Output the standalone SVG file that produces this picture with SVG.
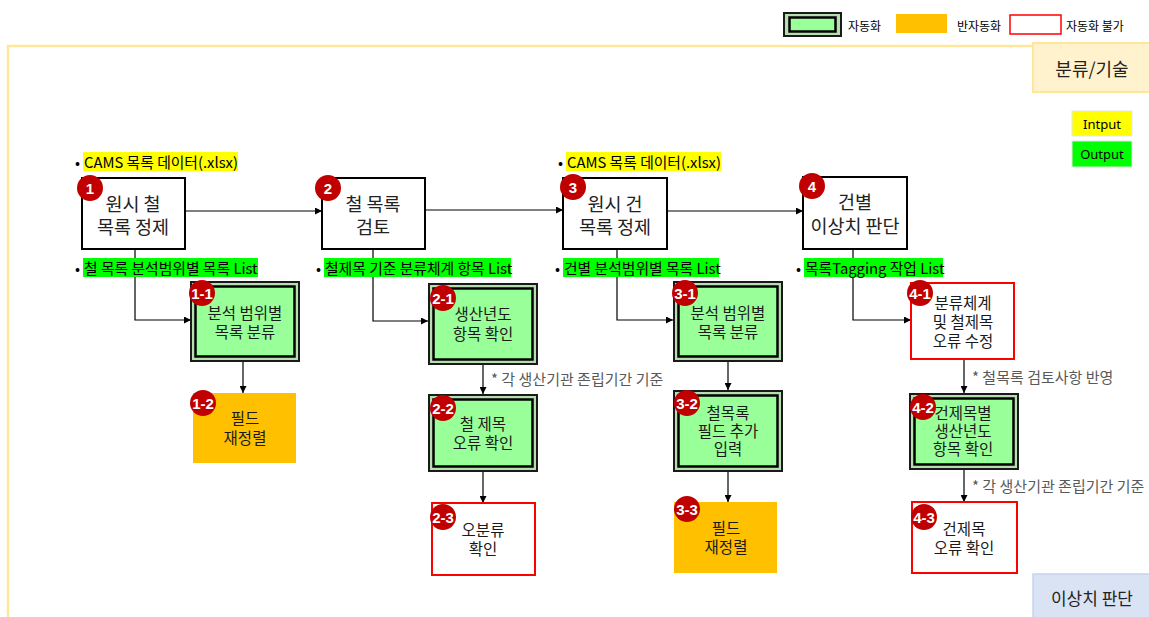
<svg xmlns="http://www.w3.org/2000/svg" width="1149" height="617" viewBox="0 0 1149 617">
<defs>
<marker id="arr" viewBox="0 0 10 10" refX="10" refY="5" markerWidth="7" markerHeight="7" orient="auto" markerUnits="userSpaceOnUse">
<path d="M0,0 L10,5 L0,10 z" fill="#000"/>
</marker>
<style>
text{font-family:"Noto Sans CJK KR","Noto Sans",sans-serif;}
.main{fill:#fff;stroke:#000;stroke-width:2;}
.ao{fill:#b6dfb0;stroke:#1a1a1a;stroke-width:2;}
.ai{fill:#99FF99;stroke:#000;stroke-width:2.5;}
.semi{fill:#FFC000;}
.no{fill:#fff;stroke:#FF0000;stroke-width:2;}
.mt{font-size:18.5px;fill:#222;text-anchor:middle;dominant-baseline:central;}
.st{font-size:15.5px;fill:#1a1a1a;text-anchor:middle;dominant-baseline:central;}
.bd{fill:#C00000;}
.bt{font-family:"Liberation Sans",sans-serif;font-weight:bold;font-size:15px;fill:#fff;text-anchor:middle;dominant-baseline:central;}
.lbl{font-size:14.8px;fill:#000;dominant-baseline:central;}
.ann{font-size:15px;fill:#595959;dominant-baseline:central;}
.leg{font-size:12px;fill:#000;dominant-baseline:central;}
.con{fill:none;stroke:#000;stroke-width:1.2;}
</style>
</defs>
<rect width="1149" height="617" fill="#fff"/>
<g id="frame">
<path d="M8,617 L8,46 L1149,46" fill="none" stroke="#FFE699" stroke-width="2.5"/>
<rect x="1033" y="43" width="120" height="49" fill="#FFF2CC" stroke="#FFE699" stroke-width="2"/>
<text x="1092" y="68" style="font-size:18px;fill:#222;text-anchor:middle;dominant-baseline:central;">분류/기술</text>
<rect x="1033" y="574" width="120" height="50" fill="#DAE3F3" stroke="#C5D3EC" stroke-width="1.5"/>
<text x="1092" y="597" style="font-size:17px;fill:#222;text-anchor:middle;dominant-baseline:central;">이상치 판단</text>
</g>
<g id="legend">
<rect x="784" y="13" width="57" height="23" class="ao"/>
<rect x="789.5" y="17.5" width="46" height="14" class="ai"/>
<text x="848" y="25" class="leg">자동화</text>
<rect x="896" y="14" width="51" height="19" class="semi"/>
<text x="957" y="25" class="leg">반자동화</text>
<rect x="1010" y="15" width="51" height="19" fill="#fff" stroke="#FF0000" stroke-width="1.5"/>
<text x="1066" y="25" class="leg">자동화 불가</text>
<rect x="1072" y="111" width="60" height="25" fill="#FFFF00" stroke="#e6e6e6" stroke-width="1"/>
<text x="1102" y="124" style="font-size:13px;fill:#000;text-anchor:middle;dominant-baseline:central;font-family:'Noto Sans',sans-serif;">Intput</text>
<rect x="1072" y="141" width="60" height="26" fill="#00FF00" stroke="#e6e6e6" stroke-width="1"/>
<text x="1102" y="154" style="font-size:13px;fill:#000;text-anchor:middle;dominant-baseline:central;font-family:'Noto Sans',sans-serif;">Output</text>
</g>
<g id="connectors">
<path class="con" marker-end="url(#arr)" d="M185,211 L322,211"/>
<path class="con" marker-end="url(#arr)" d="M425,210 L563,210"/>
<path class="con" marker-end="url(#arr)" d="M667,211 L803,211"/>
<path class="con" marker-end="url(#arr)" d="M135,249 L135,320 L191,320"/>
<path class="con" marker-end="url(#arr)" d="M373,249 L373,321 L428,321"/>
<path class="con" marker-end="url(#arr)" d="M617,249 L617,320 L673,320"/>
<path class="con" marker-end="url(#arr)" d="M853,249 L853,320 L911,320"/>
<path class="con" marker-end="url(#arr)" d="M243,362 L243,393"/>
<path class="con" marker-end="url(#arr)" d="M483,365 L483,394"/>
<path class="con" marker-end="url(#arr)" d="M483,471 L483,503"/>
<path class="con" marker-end="url(#arr)" d="M728,362 L728,390"/>
<path class="con" marker-end="url(#arr)" d="M728,472 L728,502"/>
<path class="con" marker-end="url(#arr)" d="M964,359 L964,393"/>
<path class="con" marker-end="url(#arr)" d="M964,469 L964,502"/>
</g>
<g id="labels">
<text x="75" y="161" class="lbl">•</text>
<rect x="83" y="152" width="155" height="19" fill="#FFFF00"/>
<text x="84" y="161" class="lbl">CAMS 목록 데이터(.xlsx)</text>
<text x="558" y="161" class="lbl">•</text>
<rect x="566" y="152" width="155" height="19" fill="#FFFF00"/>
<text x="567" y="161" class="lbl">CAMS 목록 데이터(.xlsx)</text>
<text x="75" y="267" class="lbl">•</text>
<rect x="83" y="258" width="175" height="19" fill="#00FF00"/>
<text x="84" y="267" class="lbl">철 목록 분석범위별 목록 List</text>
<text x="316" y="267" class="lbl">•</text>
<rect x="324" y="258" width="187" height="19" fill="#00FF00"/>
<text x="325" y="267" class="lbl">철제목 기준 분류체계 항목 List</text>
<text x="555" y="267" class="lbl">•</text>
<rect x="563" y="258" width="156" height="19" fill="#00FF00"/>
<text x="564" y="267" class="lbl">건별 분석범위별 목록 List</text>
<text x="796" y="267" class="lbl">•</text>
<rect x="804" y="258" width="139" height="19" fill="#00FF00"/>
<text x="805" y="267" class="lbl">목록Tagging 작업 List</text>
<text x="491" y="378" class="ann">* 각 생산기관 존립기간 기준</text>
<text x="972" y="376" class="ann">* 철목록 검토사항 반영</text>
<text x="972" y="485" class="ann">* 각 생산기관 존립기간 기준</text>
</g>
<g id="n1">
<rect x="82" y="178" width="103" height="71" class="main"/>
<text x="133" y="203" class="mt"><tspan x="133" y="203">원시 철</tspan><tspan x="133" y="226">목록 정제</tspan></text>
<circle cx="90" cy="188" r="13" class="bd"/><text x="90" y="188" class="bt">1</text>
</g>
<g id="n2">
<rect x="322" y="178" width="103" height="71" class="main"/>
<text x="373" y="203" class="mt"><tspan x="373" y="203">철 목록</tspan><tspan x="373" y="226">검토</tspan></text>
<circle cx="328" cy="188" r="13" class="bd"/><text x="328" y="188" class="bt">2</text>
</g>
<g id="n3">
<rect x="563" y="178" width="104" height="71" class="main"/>
<text x="615" y="203" class="mt"><tspan x="615" y="203">원시 건</tspan><tspan x="615" y="226">목록 정제</tspan></text>
<circle cx="573" cy="187" r="13" class="bd"/><text x="573" y="187" class="bt">3</text>
</g>
<g id="n4">
<rect x="803" y="177" width="104" height="72" class="main"/>
<text x="855" y="201" class="mt"><tspan x="855" y="201">건별</tspan><tspan x="855" y="225">이상치 판단</tspan></text>
<circle cx="812" cy="186" r="13" class="bd"/><text x="812" y="186" class="bt">4</text>
</g>
<g id="n1-1">
<rect x="191" y="282" width="108" height="79" class="ao"/>
<rect x="195.5" y="286.5" width="99" height="70" class="ai"/>
<text x="245" y="312" class="st"><tspan x="245" y="312">분석 범위별</tspan><tspan x="245" y="331">목록 분류</tspan></text>
<circle cx="202" cy="293" r="13" class="bd"/><text x="202" y="293" class="bt">1-1</text>
</g>
<g id="n1-2">
<rect x="193" y="393" width="103" height="70" class="semi"/>
<text x="245" y="417" class="st"><tspan x="245" y="417">필드</tspan><tspan x="245" y="437">재정렬</tspan></text>
<circle cx="203" cy="403" r="13" class="bd"/><text x="203" y="403" class="bt">1-2</text>
</g>
<g id="n2-1">
<rect x="429" y="284" width="108" height="80" class="ao"/>
<rect x="433.5" y="288.5" width="99" height="71" class="ai"/>
<text x="483" y="313" class="st"><tspan x="483" y="313">생산년도</tspan><tspan x="483" y="333">항목 확인</tspan></text>
<circle cx="443" cy="298" r="13" class="bd"/><text x="443" y="298" class="bt">2-1</text>
</g>
<g id="n2-2">
<rect x="429" y="395" width="108" height="76" class="ao"/>
<rect x="433.5" y="399.5" width="99" height="67" class="ai"/>
<text x="483" y="423" class="st"><tspan x="483" y="423">철 제목</tspan><tspan x="483" y="442">오류 확인</tspan></text>
<circle cx="443" cy="408" r="13" class="bd"/><text x="443" y="408" class="bt">2-2</text>
</g>
<g id="n2-3">
<rect x="432" y="503" width="103" height="72" class="no"/>
<text x="483" y="529" class="st"><tspan x="483" y="529">오분류</tspan><tspan x="483" y="548">확인</tspan></text>
<circle cx="443" cy="517" r="13" class="bd"/><text x="443" y="517" class="bt">2-3</text>
</g>
<g id="n3-1">
<rect x="674" y="282" width="108" height="79" class="ao"/>
<rect x="678.5" y="286.5" width="99" height="70" class="ai"/>
<text x="728" y="312" class="st"><tspan x="728" y="312">분석 범위별</tspan><tspan x="728" y="331">목록 분류</tspan></text>
<circle cx="685" cy="293" r="13" class="bd"/><text x="685" y="293" class="bt">3-1</text>
</g>
<g id="n3-2">
<rect x="674" y="391" width="108" height="80" class="ao"/>
<rect x="678.5" y="395.5" width="99" height="71" class="ai"/>
<text x="728" y="412" class="st"><tspan x="728" y="412">철목록</tspan><tspan x="728" y="430">필드 추가</tspan><tspan x="728" y="448">입력</tspan></text>
<circle cx="687" cy="403" r="13" class="bd"/><text x="687" y="403" class="bt">3-2</text>
</g>
<g id="n3-3">
<rect x="674" y="502" width="103" height="71" class="semi"/>
<text x="726" y="527" class="st"><tspan x="726" y="527">필드</tspan><tspan x="726" y="546">재정렬</tspan></text>
<circle cx="687" cy="509" r="13" class="bd"/><text x="687" y="509" class="bt">3-3</text>
</g>
<g id="n4-1">
<rect x="911" y="283" width="103" height="76" class="no"/>
<text x="963" y="302" class="st"><tspan x="963" y="302">분류체계</tspan><tspan x="963" y="321">및 철제목</tspan><tspan x="963" y="340">오류 수정</tspan></text>
<circle cx="920" cy="293" r="13" class="bd"/><text x="920" y="293" class="bt">4-1</text>
</g>
<g id="n4-2">
<rect x="910" y="394" width="108" height="75" class="ao"/>
<rect x="914.5" y="398.5" width="99" height="66" class="ai"/>
<text x="963" y="412" class="st"><tspan x="963" y="412">건제목별</tspan><tspan x="963" y="430">생산년도</tspan><tspan x="963" y="448">항목 확인</tspan></text>
<circle cx="923" cy="407" r="13" class="bd"/><text x="923" y="407" class="bt">4-2</text>
</g>
<g id="n4-3">
<rect x="912" y="502" width="105" height="71" class="no"/>
<text x="964" y="528" class="st"><tspan x="964" y="528">건제목</tspan><tspan x="964" y="547">오류 확인</tspan></text>
<circle cx="924" cy="517" r="13" class="bd"/><text x="924" y="517" class="bt">4-3</text>
</g>
</svg>
